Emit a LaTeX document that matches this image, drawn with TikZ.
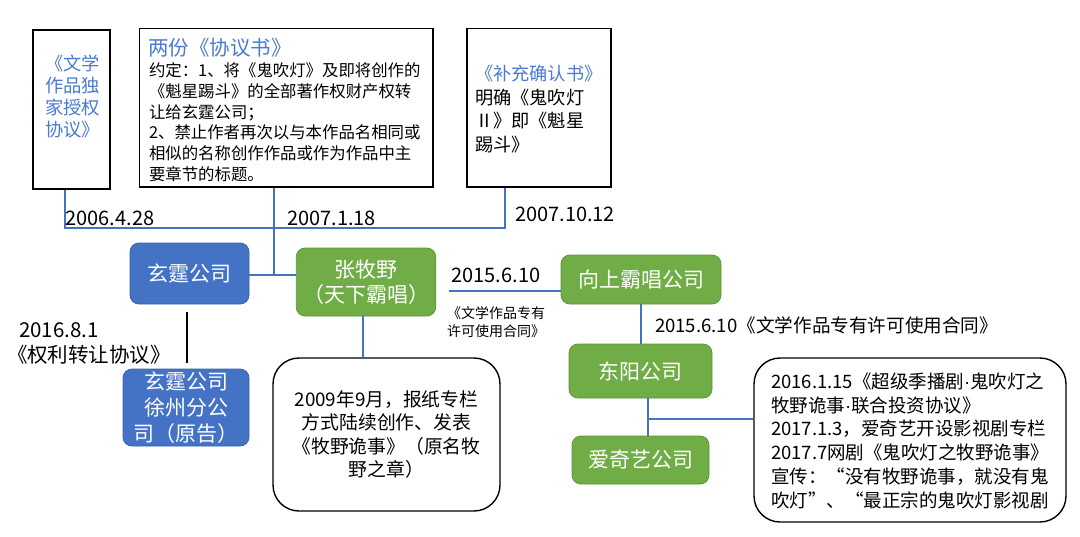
\documentclass[tikz,border=0pt]{standalone}
\usepackage{fontspec}
\setmainfont{Noto Sans CJK SC}
\newfontfamily\latinfont{Liberation Sans}
\usetikzlibrary{calc}
\definecolor{nblue}{HTML}{4472C4}
\definecolor{nbluedk}{HTML}{3A62AC}
\definecolor{ngreen}{HTML}{70AD47}
\definecolor{ngreendk}{HTML}{5E9639}
\definecolor{lblue}{HTML}{4472C4}
\definecolor{tblue}{HTML}{4A7BD0}
\newcommand{\myfs}[2]{\fontsize{#1}{#2}\selectfont}
\newcommand{\mdot}{{\latinfont ·}}
\begin{document}
\begin{tikzpicture}[x=1pt,y=-1pt,
  docbox/.style={draw=black, line width=1.4pt, fill=white, inner sep=0pt},
  roundbox/.style={draw=black, line width=1.4pt, fill=white, rounded corners=26pt, inner sep=0pt, align=center},
  bluenode/.style={fill=nblue, draw=nbluedk, line width=0.8pt, rounded corners=9pt, text=white, inner sep=0pt, align=center},
  greennode/.style={fill=ngreen, draw=ngreendk, line width=0.8pt, rounded corners=9pt, text=white, inner sep=0pt, align=center},
  conn/.style={draw=lblue, line width=1.5pt},
  blk/.style={draw=black, line width=2.6pt},
  txt/.style={inner sep=0pt, outer sep=0pt},
]
\fill[white] (0,0) rectangle (1080,536);
\useasboundingbox (0,0) rectangle (1080,536);

% top document boxes
\node[docbox, minimum width=77pt, minimum height=159pt] (boxA) at (71.5,109.5) {};
\node[txt, align=left, text=tblue, font=\myfs{18.3}{22}] (boxAt) at (72.5,97) {《文学\\作品独\\家授权\\协议》};

\node[docbox, minimum width=293.5pt, minimum height=158.4pt] (boxB) at (286.25,107.8) {};
\node[txt, anchor=west, text=tblue, font=\myfs{20.5}{24}] (boxBt) at (148,48) {两份《协议书》};
\node[txt, anchor=west, align=left, font=\myfs{16.4}{20.7}] (boxBb) at (149,122.3) {约定：1、将《鬼吹灯》及即将创作的\\《魁星踢斗》的全部著作权财产权转\\让给玄霆公司；\\2、禁止作者再次以与本作品名相同或\\相似的名称创作作品或作为作品中主\\要章节的标题。};

\node[docbox, minimum width=144pt, minimum height=158.4pt] (boxC) at (539,107.8) {};
\node[txt, anchor=west, align=left, font=\myfs{18.2}{23.5}] (boxCt) at (475,109.3) {\textcolor{tblue}{《补充确认书》}\\明确《鬼吹灯\\Ⅱ》即《魁星\\踢斗》};

% dates on timeline
\node[txt, font=\myfs{20}{24}] (d1) at (110,218) {2006.4.28};
\node[txt, font=\myfs{20}{24}] (d2) at (331.5,218) {2007.1.18};
\node[txt, font=\myfs{20}{24}] (d3) at (565,214) {2007.10.12};

% company nodes
\node[bluenode, minimum width=119pt, minimum height=61pt, font=\myfs{21}{25}] (xt) at (189.5,273.5) {玄霆公司};
\node[greennode, minimum width=139.5pt, minimum height=68pt, font=\myfs{21}{24.6}] (zm) at (366,282) {张牧野\\（天下霸唱）};
\node[bluenode, minimum width=126pt, minimum height=77pt, font=\myfs{21}{26}] (xz) at (186,407.5) {玄霆公司\\徐州分公\\司（原告）};
\node[greennode, minimum width=160pt, minimum height=49pt, font=\myfs{21}{25}] (xs) at (641,279.5) {向上霸唱公司};
\node[greennode, minimum width=143pt, minimum height=54pt, font=\myfs{21}{25}] (dy) at (640.5,371) {东阳公司};
\node[greennode, minimum width=137pt, minimum height=48pt, font=\myfs{21}{25}] (aq) at (640.5,460) {爱奇艺公司};

% rounded text boxes
\node[roundbox, minimum width=227pt, minimum height=153pt, font=\myfs{18.8}{23.4}] (bD) at (386.5,434.5) {2009年9月，报纸专栏\\方式陆续创作、发表\\《牧野诡事》（原名牧\\野之章）};
\node[roundbox, minimum width=312pt, minimum height=164pt] (bE) at (910,440) {};
\node[txt, anchor=west, align=left, font=\myfs{18.5}{23.7}] (bEt) at (771,440.7) {2016.1.15《超级季播剧\mdot 鬼吹灯之\\牧野诡事\mdot 联合投资协议》\\2017.1.3，爱奇艺开设影视剧专栏\\2017.7网剧《鬼吹灯之牧野诡事》\\宣传：“没有牧野诡事，就没有鬼\\吹灯”、“最正宗的鬼吹灯影视剧};

% labels
\node[txt, font=\myfs{20.5}{24}] (l1) at (59,330) {2016.8.1};
\node[txt, font=\myfs{20.5}{24}] (l2) at (89,355) {《权利转让协议》};
\node[txt, font=\myfs{20}{24}] (l3) at (496,275) {2015.6.10};
\node[txt, anchor=west, align=left, font=\myfs{14}{18}] (l4) at (447,322) {《文学作品专有\\许可使用合同》};
\node[txt, anchor=west, font=\myfs{18.6}{22}] (l5) at (655,325) {2015.6.10《文学作品专有许可使用合同》};

% connectors
\coordinate (tA) at (65,228);
\coordinate (tC) at (505,228);
\coordinate (tB) at (274,275);
\coordinate (bk) at (187,0);
\coordinate (vD) at (363,0);
\coordinate (zx) at (449,291);
\coordinate (jv) at (648,419);
\draw[conn] (tA |- boxA.south) -- (tA) -- (tC) -- (tC |- boxC.south);
\draw[conn] (tB |- boxB.south) -- (tB);
\draw[conn] (tB -| xt.east) -- (tB -| zm.west);
\draw[blk, shorten <=8pt, shorten >=6pt] (xt.south -| bk) -- (xz.north -| bk);
\draw[conn] (zm.south -| vD) -- (bD.north -| vD);
\draw[conn] (zx) -- (zx -| xs.west);
\draw[conn] (xs.south) -- (xs.south |- dy.north);
\draw[conn] (dy.south -| jv) -- (aq.north -| jv);
\draw[conn] (jv) -- (jv -| bE.west);
\end{tikzpicture}
\end{document}
